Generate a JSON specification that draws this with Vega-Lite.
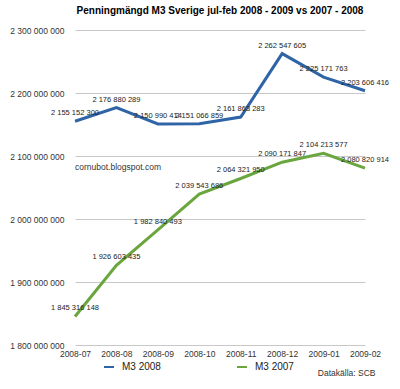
{
  "$schema": "https://vega.github.io/schema/vega-lite/v6.json",
  "width": 290,
  "height": 315,
  "autosize": {"type": "none"},
  "padding": {"left": 75, "top": 30, "right": 35, "bottom": 44},
  "background": "white",
  "config": {
    "locale": {"number": {"decimal": ",", "thousands": " ", "grouping": [3], "currency": ["", " kr"]}},
    "font": "Liberation Sans",
    "view": {"stroke": null}
  },
  "title": {
    "text": "Penningmängd M3 Sverige jul-feb 2008 - 2009 vs 2007 - 2008",
    "fontSize": 10,
    "fontWeight": "bold",
    "color": "#000000",
    "anchor": "middle",
    "offset": 10
  },
  "datasets": {
    "m3": [
      {"month": "2008-07", "series": "M3 2008", "value": 2155152300},
      {"month": "2008-08", "series": "M3 2008", "value": 2176880289},
      {"month": "2008-09", "series": "M3 2008", "value": 2150990414},
      {"month": "2008-10", "series": "M3 2008", "value": 2151066859},
      {"month": "2008-11", "series": "M3 2008", "value": 2161863283},
      {"month": "2008-12", "series": "M3 2008", "value": 2262547605},
      {"month": "2009-01", "series": "M3 2008", "value": 2225171763},
      {"month": "2009-02", "series": "M3 2008", "value": 2203606416},
      {"month": "2008-07", "series": "M3 2007", "value": 1845316148},
      {"month": "2008-08", "series": "M3 2007", "value": 1926603435},
      {"month": "2008-09", "series": "M3 2007", "value": 1982840493},
      {"month": "2008-10", "series": "M3 2007", "value": 2039543686},
      {"month": "2008-11", "series": "M3 2007", "value": 2064321950},
      {"month": "2008-12", "series": "M3 2007", "value": 2090171847},
      {"month": "2009-01", "series": "M3 2007", "value": 2104213577},
      {"month": "2009-02", "series": "M3 2007", "value": 2080820914}
    ],
    "mark": [
      {"month": "2008-07", "value": 2082500000, "label": "cornubot.blogspot.com"}
    ]
  },
  "layer": [
    {
      "data": {"name": "m3"},
      "mark": {"type": "line", "strokeWidth": 3, "strokeJoin": "miter"},
      "encoding": {
        "x": {
          "field": "month", "type": "ordinal",
          "scale": {"type": "point", "padding": 0},
          "axis": {
            "title": "Datakälla: SCB",
            "titleFontSize": 8.5,
            "titleFontWeight": "normal",
            "titleColor": "#333333",
            "titleAnchor": "end",
            "titleAlign": "right",
            "titleBaseline": "middle",
            "titleX": 300,
            "titleY": 27,
            "labelAngle": 0,
            "labelFontSize": 8.5,
            "labelColor": "#333333",
            "labelPadding": 4,
            "ticks": false,
            "domain": false,
            "grid": false
          }
        },
        "y": {
          "field": "value", "type": "quantitative",
          "scale": {"domain": [1800000000, 2300000000], "nice": false, "zero": false},
          "axis": {
            "title": null,
            "values": [1800000000, 1900000000, 2000000000, 2100000000, 2200000000, 2300000000],
            "format": ",d",
            "labelFontSize": 8.5,
            "labelColor": "#333333",
            "labelPadding": 11,
            "ticks": false,
            "domain": false,
            "grid": true,
            "gridColor": "#c8c8c8",
            "gridWidth": 1
          }
        },
        "color": {
          "field": "series", "type": "nominal",
          "scale": {"domain": ["M3 2008", "M3 2007"], "range": ["#2f64a6", "#6aa63e"]},
          "legend": {
            "title": null,
            "orient": "none",
            "direction": "horizontal",
            "legendX": 28,
            "legendY": 331,
            "padding": 0,
            "symbolType": "stroke",
            "symbolSize": 100,
            "symbolStrokeWidth": 2,
            "labelFontSize": 10,
            "labelColor": "#222222",
            "labelOffset": 7,
            "columnPadding": 72
          }
        }
      }
    },
    {
      "data": {"name": "m3"},
      "mark": {"type": "text", "fontSize": 7.5, "color": "#222222", "dy": -8, "baseline": "middle"},
      "encoding": {
        "x": {"field": "month", "type": "ordinal"},
        "y": {"field": "value", "type": "quantitative"},
        "text": {"field": "value", "type": "quantitative", "format": ",d"}
      }
    },
    {
      "data": {"name": "mark"},
      "mark": {"type": "text", "fontSize": 8.5, "color": "#333333", "align": "left", "baseline": "middle"},
      "encoding": {
        "x": {"field": "month", "type": "ordinal"},
        "y": {"field": "value", "type": "quantitative"},
        "text": {"field": "label", "type": "nominal"}
      }
    }
  ]
}
